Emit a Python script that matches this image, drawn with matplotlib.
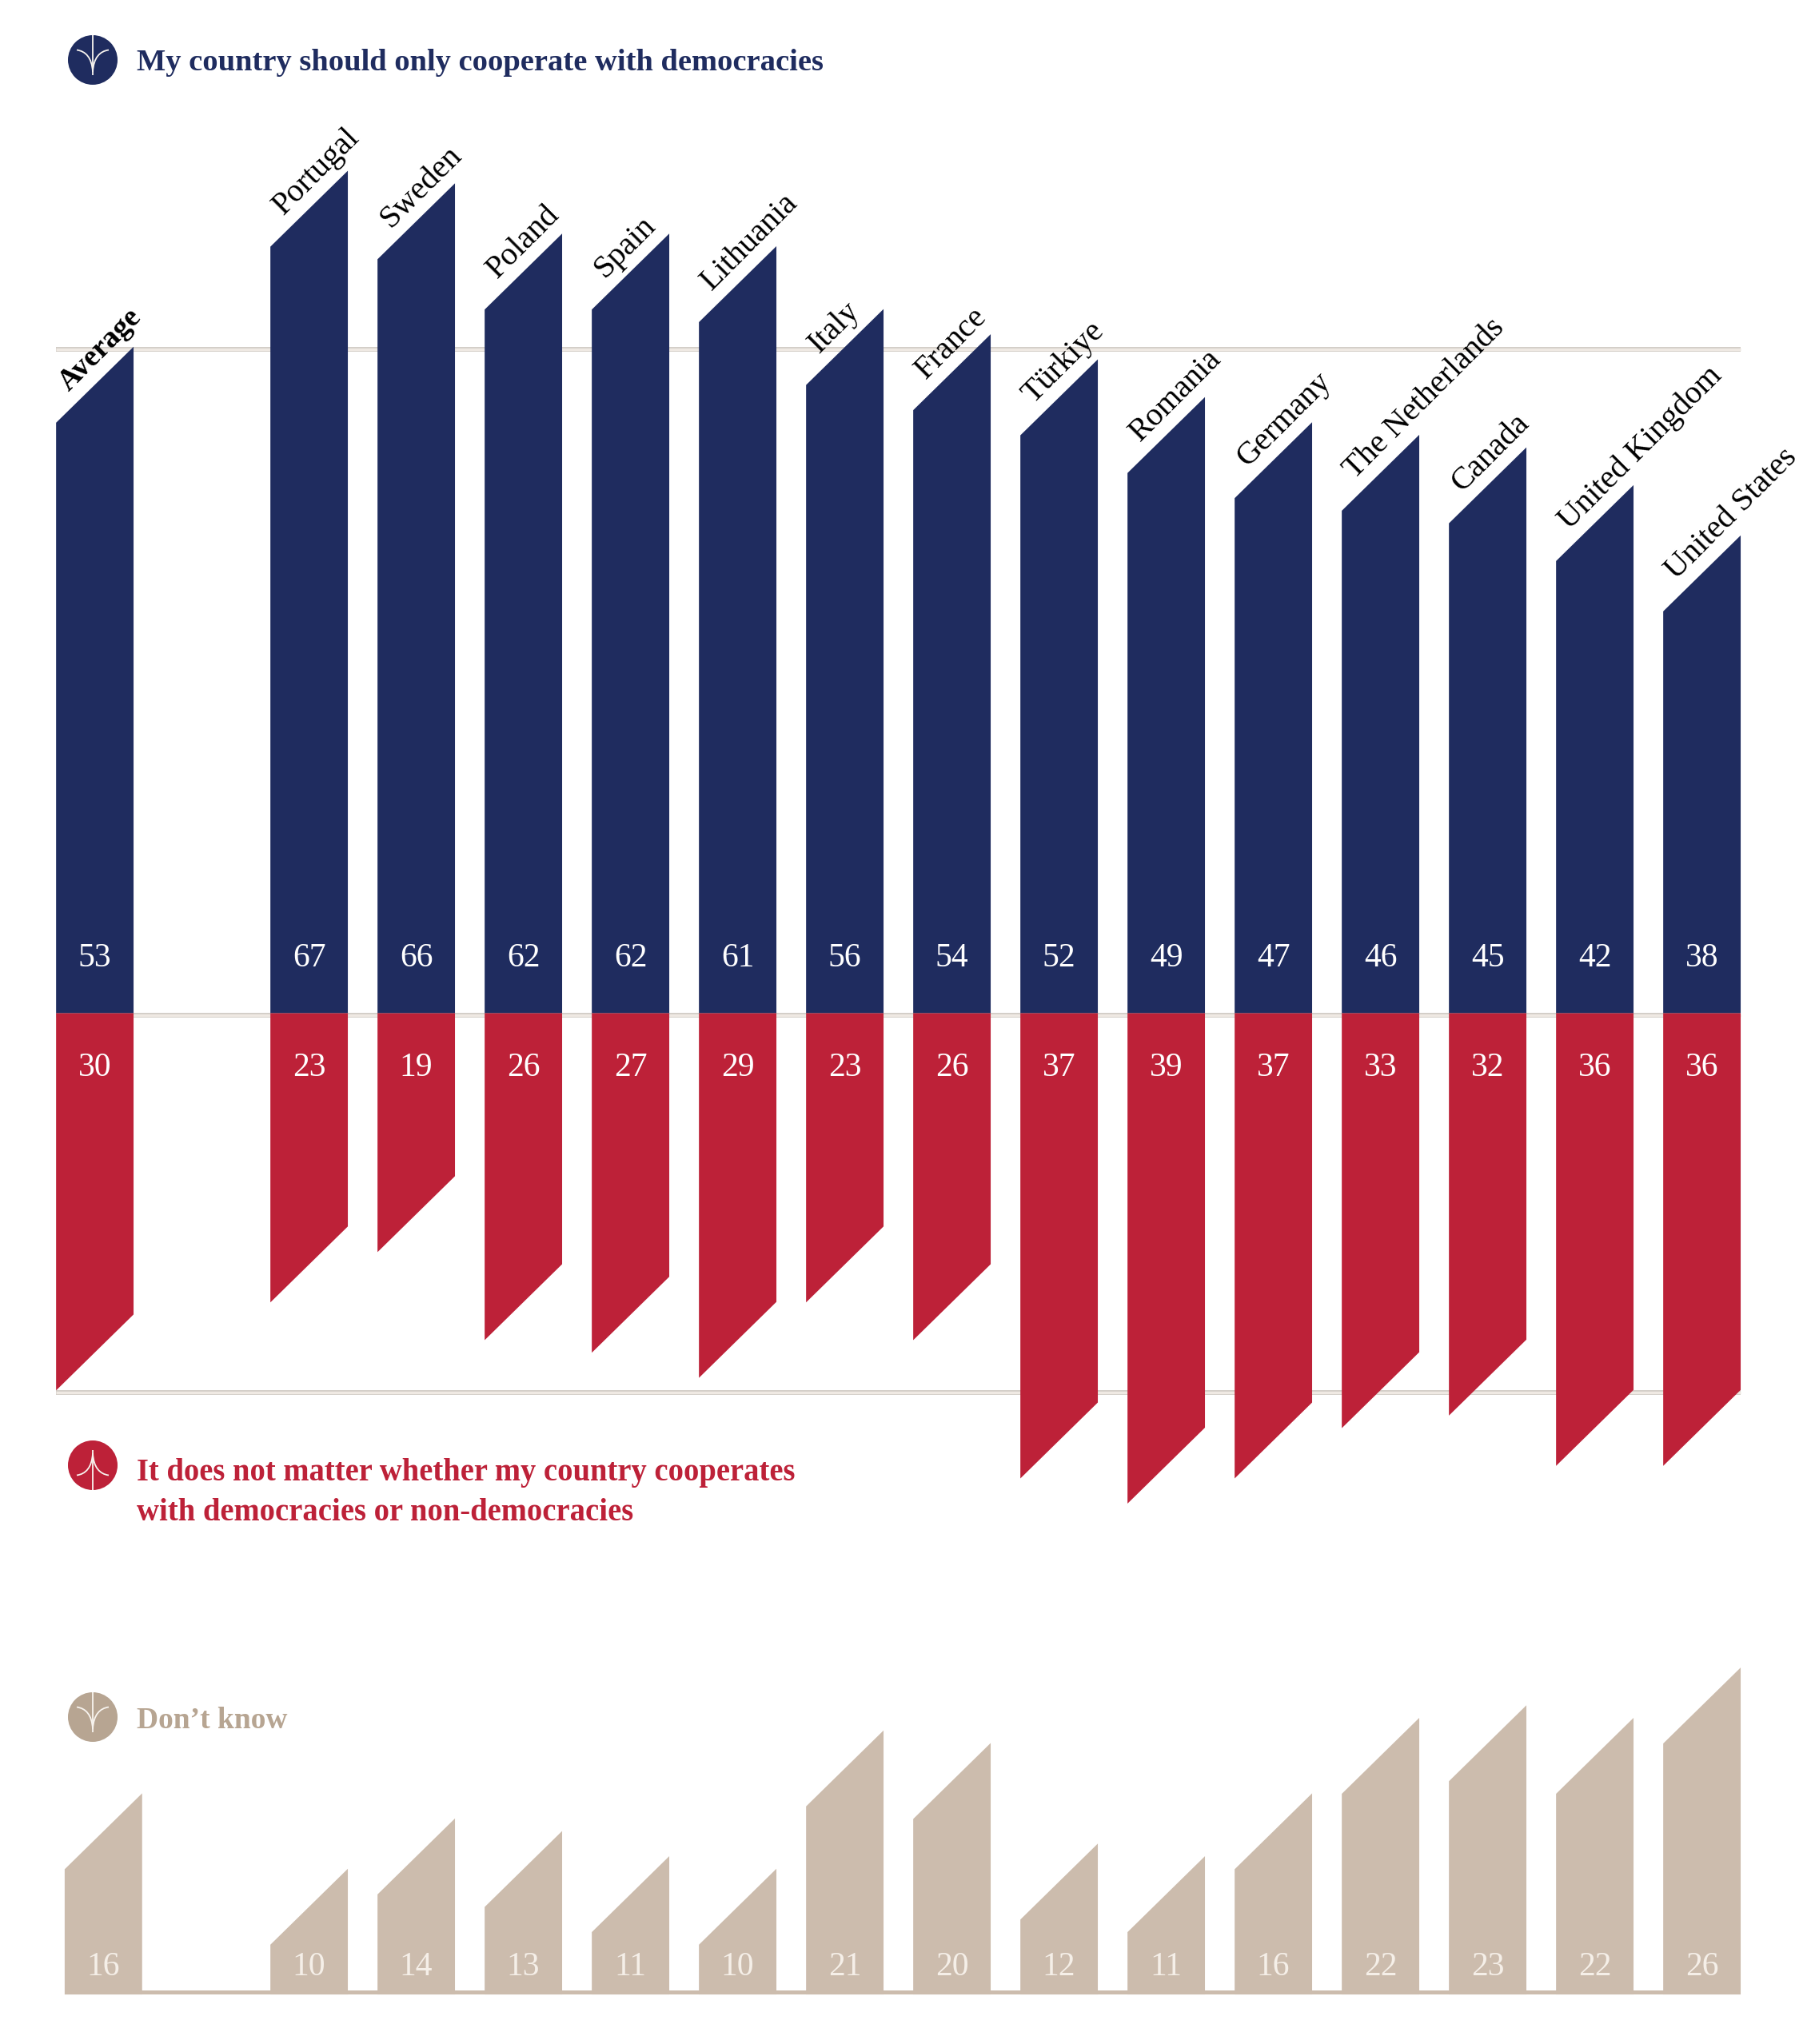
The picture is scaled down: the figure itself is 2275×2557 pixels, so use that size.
import matplotlib
matplotlib.use('Agg')
import matplotlib.pyplot as plt
from matplotlib.path import Path
from matplotlib.patches import PathPatch, Circle, Rectangle

countries = ['Average', 'Portugal', 'Sweden', 'Poland', 'Spain', 'Lithuania', 'Italy', 'France',
             'Türkiye', 'Romania', 'Germany', 'The Netherlands', 'Canada', 'United Kingdom', 'United States']
only_democracies = [53, 67, 66, 62, 62, 61, 56, 54, 52, 49, 47, 46, 45, 42, 38]
no_matter = [30, 23, 19, 26, 27, 29, 23, 26, 37, 39, 37, 33, 32, 36, 36]
dont_know = [16, 10, 14, 13, 11, 10, 21, 20, 12, 11, 16, 22, 23, 22, 26]
slots = [0, 2, 3, 4, 5, 6, 7, 8, 9, 10, 11, 12, 13, 14, 15]

NAVY = '#1f2c5f'
RED = '#bd2138'
BEIGE = '#ccbcad'
BEIGE_DARK = '#b7a592'
W, H = 2275, 2557

plt.rcParams['font.family'] = ['Liberation Serif', 'DejaVu Serif']

fig = plt.figure(figsize=(W / 100, H / 100), dpi=100, facecolor='white')

# main axes fills the figure: x in category slots, y in percent with 0 at the navy/red join
x_unit, y_unit = 134.0, 15.73
x0_px, y0_px = 118.6, 1267.5
ax = fig.add_axes([0, 0, 1, 1])
ax.set_xlim(-x0_px / x_unit, (W - x0_px) / x_unit)
ax.set_ylim(-(H - y0_px) / y_unit, y0_px / y_unit)
ax.axis('off')

bar_w = 0.723
cut = 6.04  # how far the slanted end drops, in percent units
dk_base = -78.04  # baseline of the don't know row
dk_shift = 0.08  # its Average bar sits a bit to the right


def slanted(x, y0, value, sign=1):
    l, r = x - bar_w / 2, x + bar_w / 2
    tip = y0 + sign * value
    if sign > 0:
        return [l, l, r, r], [y0, tip - cut, tip, y0]
    return [l, l, r, r], [y0, tip, tip + cut, y0]


# reference lines at the Average values, hanging just under the value
line_l = slots[0] - bar_w / 2
line_r = slots[-1] + bar_w / 2
for v in [only_democracies[0], 0, -no_matter[0]]:
    ax.plot([line_l, line_r], [v - 0.19, v - 0.19], color='#d3cec8', lw=4.3, solid_capstyle='butt', zorder=1)
    ax.plot([line_l, line_r], [v - 0.19, v - 0.19], color='#efe9e3', lw=2.4, solid_capstyle='butt', zorder=1.1)

# strip under the don't know bars
ax.add_patch(Rectangle((slots[0] + dk_shift - bar_w / 2, dk_base), line_r - line_l - dk_shift, 0.3,
                       color=BEIGE, lw=0, zorder=2))

for i, name in enumerate(countries):
    x = slots[i]
    xs, ys = slanted(x, 0, only_democracies[i])
    ax.fill(xs, ys, color=NAVY, lw=0, zorder=3)
    xs, ys = slanted(x, 0, no_matter[i], -1)
    ax.fill(xs, ys, color=RED, lw=0, zorder=3)
    xd = x + dk_shift if i == 0 else x
    xs, ys = slanted(xd, dk_base, dont_know[i])
    ax.fill(xs, ys, color=BEIGE, lw=0, zorder=3)

    ax.text(x, 4.4, str(only_democracies[i]), color='white', fontsize=30, ha='center', va='center', zorder=4)
    ax.text(x, -4.35, str(no_matter[i]), color='white', fontsize=30, ha='center', va='center', zorder=4)
    ax.text(xd, dk_base + 2.15, str(dont_know[i]), color='#f5efe8', fontsize=30, ha='center', va='center', zorder=4)

    ax.text(x - bar_w / 2 + 0.12, only_democracies[i] - cut + 2.45, name, color='black',
            fontsize=27 if i == 0 else 29, rotation=45, rotation_mode='anchor', ha='left', va='baseline',
            zorder=5, fontweight='bold' if i == 0 else 'normal')

# overlay in pixels for the three headings
lay = fig.add_axes([0, 0, 1, 1])
lay.set_xlim(0, W)
lay.set_ylim(H, 0)
lay.axis('off')
lay.patch.set_alpha(0)


def icon(cx, cy, color, flip=False):
    lay.add_patch(Circle((cx, cy), 31, color=color, lw=0))
    s = -1 if flip else 1
    lay.plot([cx, cx], [cy - 31 * s, cy + 19 * s], color='#f8f4ef', lw=1.3, solid_capstyle='butt')
    for side in (-1, 1):
        verts = [(cx + side * 20, cy - 12.5 * s), (cx + side * 9, cy - 11 * s), (cx + side * 1, cy - 3 * s),
                 (cx, cy + 15 * s)]
        lay.add_patch(PathPatch(Path(verts, [Path.MOVETO, Path.CURVE4, Path.CURVE4, Path.CURVE4]),
                                fc='none', ec='#f8f4ef', lw=1.3))


icon(116, 75, NAVY)
lay.text(171, 78, 'My country should only cooperate with democracies', color=NAVY, fontsize=27.7,
         fontweight='bold', ha='left', va='center')
icon(116, 1833, RED, flip=True)
lay.text(171, 1842, 'It does not matter whether my country cooperates', color=RED, fontsize=27.8,
         fontweight='bold', ha='left', va='center')
lay.text(171, 1892, 'with democracies or non-democracies', color=RED, fontsize=27.8,
         fontweight='bold', ha='left', va='center')
icon(116, 2148, BEIGE_DARK)
lay.text(171, 2152, 'Don’t know', color=BEIGE_DARK, fontsize=27,
         fontweight='bold', ha='left', va='center')

fig.savefig('out.png', dpi=100, facecolor='white')
